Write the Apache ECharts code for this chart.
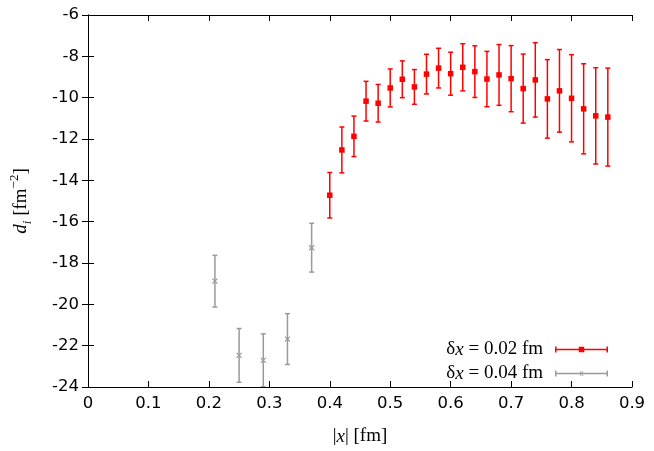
<!DOCTYPE html>
<html>
<head>
<meta charset="utf-8">
<script src="https://cdn.jsdelivr.net/npm/echarts@6/dist/echarts.min.js"></script>
<style>
  html, body { margin: 0; padding: 0; background: #fff; }
  #chart { width: 654px; height: 451px; }
</style>
</head>
<body>
<div id="chart"></div>
<script>
// δx = 0.02 fm
const xRed = [0.40, 0.42, 0.44, 0.46, 0.48, 0.50, 0.52, 0.54, 0.56, 0.58, 0.60, 0.62,
  0.64, 0.66, 0.68, 0.70, 0.72, 0.74, 0.76, 0.78, 0.80, 0.82, 0.84, 0.86]
const yRed = [-14.72, -12.53, -11.87, -10.17, -10.27, -9.53, -9.11, -9.48, -8.86, -8.57, -8.84, -8.53,
  -8.74, -9.10, -8.90, -9.08, -9.56, -9.14, -10.06, -9.67, -10.03, -10.54, -10.88, -10.94]
const eRed = [1.10, 1.11, 0.98, 0.96, 0.91, 0.92, 0.89, 0.84, 0.96, 0.96, 1.04, 1.14,
  1.25, 1.34, 1.47, 1.60, 1.67, 1.80, 1.90, 2.00, 2.11, 2.18, 2.33, 2.37]

// δx = 0.04 fm
const xGray = [0.21, 0.25, 0.29, 0.33, 0.37]
const yGray = [-18.88, -22.47, -22.71, -21.68, -17.26]
const eGray = [1.25, 1.30, 1.28, 1.23, 1.18]

const xTicks = [0, 0.1, 0.2, 0.3, 0.4, 0.5, 0.6, 0.7, 0.8, 0.9]
const yTicks = [-24, -22, -20, -18, -16, -14, -12, -10, -8, -6]

const RED = '#ff0000'
const GRAY = '#9a9a9a'
const SANS = 'DejaVu Sans'
const SERIF = 'Liberation Serif'

const chart = echarts.init(document.getElementById('chart'))

const zip = (xs, ys, es) => xs.map((x, i) => [x, ys[i], es[i]])

function errorBars(color, marker) {
  return (params, api) => {
    const x = api.value(0)
    const y = api.value(1)
    const e = api.value(2)
    const c = api.coord([x, y])
    const hi = api.coord([x, y + e])[1]
    const lo = api.coord([x, y - e])[1]
    const cap = 2.5
    const style = { stroke: color, lineWidth: 1.5 }
    const children = [
      { type: 'line', shape: { x1: c[0], y1: hi, x2: c[0], y2: lo }, style },
      { type: 'line', shape: { x1: c[0] - cap, y1: hi, x2: c[0] + cap, y2: hi }, style },
      { type: 'line', shape: { x1: c[0] - cap, y1: lo, x2: c[0] + cap, y2: lo }, style },
    ]
    if (marker === 'square') {
      children.push({ type: 'rect', shape: { x: c[0] - 2.75, y: c[1] - 2.75, width: 5.5, height: 5.5 }, style: { fill: color } })
    } else {
      const s = 2.5
      children.push(
        { type: 'line', shape: { x1: c[0] - s, y1: c[1] - s, x2: c[0] + s, y2: c[1] + s }, style: { stroke: color, lineWidth: 1.2 } },
        { type: 'line', shape: { x1: c[0] - s, y1: c[1] + s, x2: c[0] + s, y2: c[1] - s }, style: { stroke: color, lineWidth: 1.2 } }
      )
    }
    const cs = params.coordSys
    return {
      type: 'group',
      children,
      clipPath: { type: 'rect', shape: { x: cs.x, y: cs.y, width: cs.width, height: cs.height } },
    }
  }
}

const iconRed = 'path://M0,0H1.5V6H0Z M51.5,0H53V6H51.5Z M0,2.25H53V3.75H0Z M23.75,0.25H29.25V5.75H23.75Z'
const iconGray = 'path://M0,0H1.5V6H0Z M51.5,0H53V6H51.5Z M0,2.25H53V3.75H0Z M24.5,0.8L25.5,0.8L26.5,2.3L27.5,0.8L28.5,0.8L27,3L28.5,5.2L27.5,5.2L26.5,3.7L25.5,5.2L24.5,5.2L26,3Z'

const tickAxis = {
  axisLine: { show: true, lineStyle: { color: '#000', width: 1 } },
  axisTick: { show: true, inside: true, length: 6, lineStyle: { color: '#000', width: 1 } },
  splitLine: { show: false },
}

chart.setOption({
  animation: false,
  backgroundColor: '#fff',
  grid: { left: 86, right: 22, top: 15, bottom: 62 },
  legend: {
    orient: 'vertical',
    right: 41,
    top: 335,
    align: 'right',
    itemWidth: 53,
    itemHeight: 6,
    itemGap: 5,
    selectedMode: false,
    data: [
      { name: 'δx = 0.02 fm', icon: iconRed },
      { name: 'δx = 0.04 fm', icon: iconGray },
    ],
    formatter: (name) => '{n|δ}{i|x}{p|' + name.slice(2) + '}',
    textStyle: {
      rich: {
        n: { fontFamily: SERIF, fontSize: 19, color: '#000', lineHeight: 18 },
        i: { fontFamily: SERIF, fontSize: 19, fontStyle: 'italic', color: '#000', lineHeight: 18 },
        p: { fontFamily: SERIF, fontSize: 19, color: '#000', lineHeight: 18, padding: [0, 7, 0, 0] },
      },
    },
  },
  xAxis: [
    {
      type: 'value', min: 0, max: 0.9, interval: 0.1, position: 'bottom',
      ...tickAxis,
      axisLabel: {
        color: '#000', fontFamily: SANS, fontSize: 16.5, margin: 8,
        formatter: (v) => {
          const t = xTicks.find((k) => Math.abs(k - v) < 1e-6)
          return t === undefined ? '' : String(t)
        },
      },
      name: '{n||}{i|x}{n|| [fm]}',
      nameLocation: 'middle',
      nameGap: 40,
      nameTextStyle: {
        rich: {
          n: { fontFamily: SERIF, fontSize: 19, color: '#000' },
          i: { fontFamily: SERIF, fontSize: 19, fontStyle: 'italic', color: '#000' },
        },
      },
    },
    {
      type: 'value', min: 0, max: 0.9, interval: 0.1, position: 'top',
      ...tickAxis,
      axisLabel: { show: false },
    },
  ],
  yAxis: [
    {
      type: 'value', min: -24, max: -6, interval: 2, position: 'left',
      ...tickAxis,
      axisLabel: {
        color: '#000', fontFamily: SANS, fontSize: 16.5, margin: 9,
        formatter: (v) => {
          const t = yTicks.find((k) => Math.abs(k - v) < 1e-6)
          return t === undefined ? '' : String(t)
        },
      },
      name: '{i|d}{sub|i}{n| [fm}{sup|−2}{n|]}',
      nameLocation: 'middle',
      nameGap: 54,
      nameTextStyle: {
        rich: {
          i: { fontFamily: SERIF, fontSize: 19, fontStyle: 'italic', color: '#000', lineHeight: 26 },
          n: { fontFamily: SERIF, fontSize: 19, color: '#000', lineHeight: 26 },
          sub: { fontFamily: SERIF, fontSize: 13, fontStyle: 'italic', color: '#000', verticalAlign: 'bottom', lineHeight: 26 },
          sup: { fontFamily: SERIF, fontSize: 13, color: '#000', verticalAlign: 'top', lineHeight: 26 },
        },
      },
    },
    {
      type: 'value', min: -24, max: -6, interval: 2, position: 'right',
      ...tickAxis,
      axisLabel: { show: false },
    },
  ],
  series: [
    {
      name: 'δx = 0.02 fm',
      type: 'custom',
      xAxisIndex: 0,
      yAxisIndex: 0,
      itemStyle: { color: RED },
      renderItem: errorBars(RED, 'square'),
      encode: { x: 0, y: 1 },
      data: zip(xRed, yRed, eRed),
      z: 3,
    },
    {
      name: 'δx = 0.04 fm',
      type: 'custom',
      xAxisIndex: 0,
      yAxisIndex: 0,
      itemStyle: { color: GRAY },
      renderItem: errorBars(GRAY, 'cross'),
      encode: { x: 0, y: 1 },
      data: zip(xGray, yGray, eGray),
      z: 2,
    },
  ],
})

window.addEventListener('resize', () => chart.resize())
</script>
</body>
</html>
